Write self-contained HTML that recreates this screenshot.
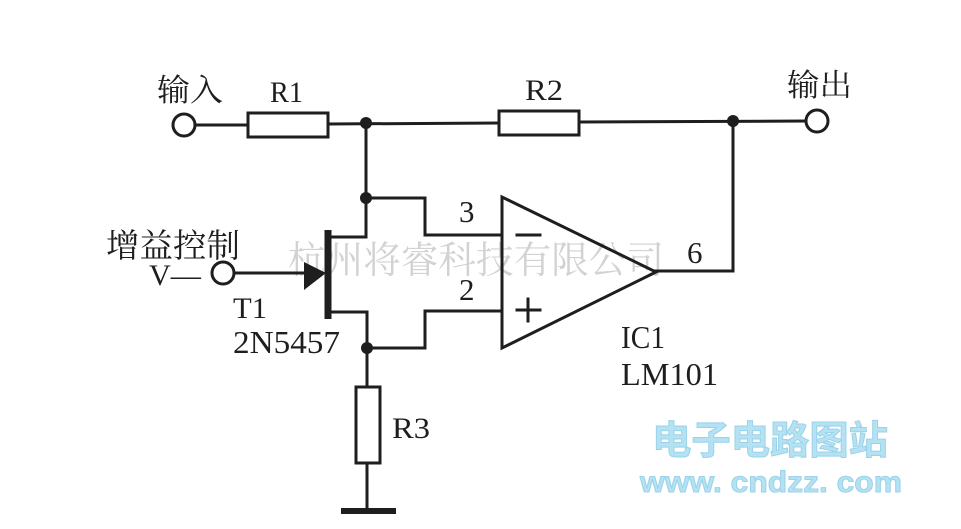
<!DOCTYPE html>
<html><head><meta charset="utf-8"><style>
html,body{margin:0;padding:0;background:#fff;}
svg{display:block;}
</style></head><body>
<svg width="961" height="529" viewBox="0 0 961 529" xmlns="http://www.w3.org/2000/svg">
<rect width="961" height="529" fill="#fff"/>
<!-- gray watermark -->
<text x="288" y="273" font-family="'Liberation Serif','Noto Serif CJK SC',serif" font-size="37.5" fill="#d2d2d2" textLength="376" lengthAdjust="spacingAndGlyphs">杭州将睿科技有限公司</text>

<g stroke="#1e1e1e" stroke-width="3" fill="none" stroke-linecap="square">
  <!-- input -->
  <circle cx="184" cy="125" r="11" fill="#fff"/>
  <line x1="195" y1="125" x2="248" y2="125"/>
  <rect x="248" y="113" width="80" height="24" fill="#fff"/>
  <line x1="328" y1="124" x2="499" y2="123"/>
  <rect x="499" y="111" width="80" height="24" fill="#fff"/>
  <line x1="579" y1="122" x2="806" y2="121"/>
  <circle cx="817" cy="121" r="11" fill="#fff"/>
  <!-- feedback down to output -->
  <polyline points="733,121 733,271 656,271"/>
  <!-- node vertical -->
  <line x1="366" y1="123" x2="366" y2="237"/>
  <polyline points="366,198 425,198 425,235 502,235"/>
  <line x1="331" y1="237" x2="366" y2="237"/>
  <!-- JFET -->
  <line x1="328" y1="230" x2="328" y2="319" stroke-width="7" stroke-linecap="butt"/>
  <polyline points="331,312 367,312 367,387"/>
  <polyline points="367,348 425,348 425,311 502,311"/>
  <!-- gate -->
  <circle cx="223" cy="273" r="11" fill="#fff"/>
  <line x1="234" y1="273" x2="310" y2="273"/>
  <!-- R3 -->
  <rect x="356" y="387" width="24" height="76" fill="#fff"/>
  <line x1="367" y1="463" x2="367" y2="510"/>
  <line x1="341" y1="511" x2="396" y2="511" stroke-width="6" stroke-linecap="butt"/>
  <!-- op amp -->
  <polygon points="502,197 502,348 656,272" stroke-linejoin="miter"/>
  <line x1="517" y1="235" x2="540" y2="235"/>
  <line x1="517" y1="310" x2="540" y2="310"/>
  <line x1="528" y1="299" x2="528" y2="321"/>
</g>
<!-- arrow on gate -->
<polygon points="304,262 326,273 304,290" fill="#1e1e1e"/>
<!-- junction dots -->
<g fill="#1e1e1e">
  <circle cx="366" cy="123" r="6"/>
  <circle cx="366" cy="198" r="6"/>
  <circle cx="367" cy="348" r="6"/>
  <circle cx="733" cy="121" r="6"/>
</g>

<g font-family="'Liberation Serif','Noto Serif CJK SC',serif" fill="#1e1e1e" lengthAdjust="spacingAndGlyphs">
  <text x="157" y="101" font-size="31" textLength="66" lengthAdjust="spacingAndGlyphs">输入</text>
  <text x="270" y="102" font-size="30" textLength="33" lengthAdjust="spacingAndGlyphs">R1</text>
  <text x="525" y="100" font-size="30" textLength="38" lengthAdjust="spacingAndGlyphs">R2</text>
  <text x="787" y="96" font-size="31" textLength="65" lengthAdjust="spacingAndGlyphs">输出</text>
  <text x="106" y="257" font-size="33" textLength="134" lengthAdjust="spacingAndGlyphs">增益控制</text>
  <text x="149" y="285" font-size="30" textLength="52" lengthAdjust="spacingAndGlyphs">V—</text>
  <text x="233" y="318" font-size="30" textLength="34" lengthAdjust="spacingAndGlyphs">T1</text>
  <text x="233" y="353" font-size="32" textLength="107" lengthAdjust="spacingAndGlyphs">2N5457</text>
  <text x="459" y="222" font-size="31">3</text>
  <text x="459" y="300" font-size="31">2</text>
  <text x="687" y="263" font-size="31">6</text>
  <text x="621" y="348" font-size="32" textLength="44" lengthAdjust="spacingAndGlyphs">IC1</text>
  <text x="621" y="385" font-size="32" textLength="97" lengthAdjust="spacingAndGlyphs">LM101</text>
  <text x="392" y="438" font-size="30" textLength="38" lengthAdjust="spacingAndGlyphs">R3</text>
</g>

<!-- blue watermark -->
<g font-family="'Liberation Sans','Noto Sans CJK SC',sans-serif" font-weight="bold" fill="#b4e2f2" stroke="#9bd2ea" stroke-width="1">
  <text x="652" y="454" font-size="39" textLength="236" lengthAdjust="spacingAndGlyphs">电子电路图站</text>
  <text x="640" y="492" font-size="30" textLength="262" lengthAdjust="spacingAndGlyphs">www. cndzz. com</text>
</g>
</svg>
</body></html>
